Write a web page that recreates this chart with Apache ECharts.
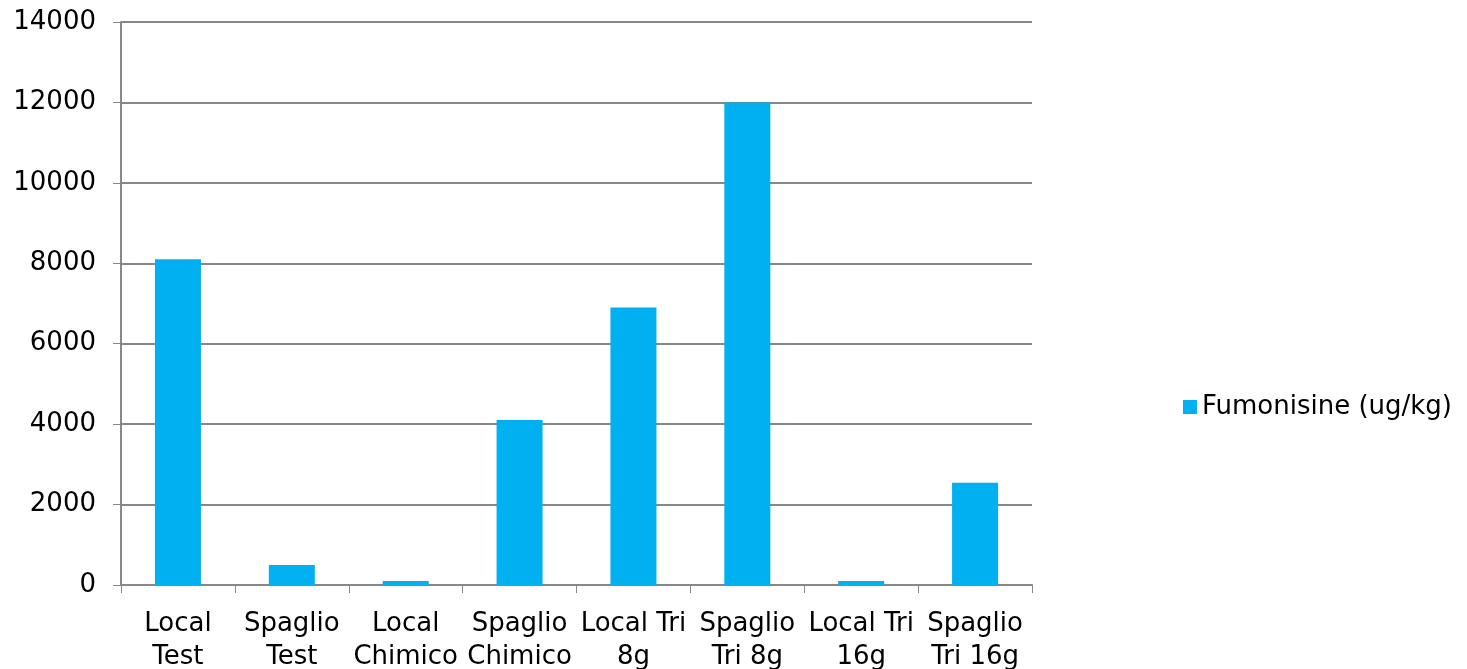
<!DOCTYPE html>
<html>
<head>
<meta charset="utf-8">
<script src="https://cdn.jsdelivr.net/npm/echarts@6/dist/echarts.min.js"></script>
<style>
    html, body { margin: 0; padding: 0; background: #fff; }
    #main { width: 1467px; height: 669px; }
</style>
</head>
<body>
<div id="main"></div>
<script>
var categories = ['Local\nTest', 'Spaglio\nTest', 'Local\nChimico', 'Spaglio\nChimico',
    'Local Tri\n8g', 'Spaglio\nTri 8g', 'Local Tri\n16g', 'Spaglio\nTri 16g'];
var fumonisine = [8100, 500, 100, 4100, 6900, 12000, 100, 2540];
var seriesName = 'Fumonisine (ug/kg)';

var myChart = echarts.init(document.getElementById('main'));
var option = {
    backgroundColor: '#fff',
    textStyle: {
        fontFamily: 'DejaVu Sans'
    },
    grid: {
        left: 121,
        right: 435,
        top: 22,
        bottom: 84,
        outerBoundsMode: 'none'
    },
    legend: {
        data: [seriesName],
        right: 10,
        top: 389,
        icon: 'rect',
        itemWidth: 14,
        itemHeight: 14,
        itemGap: 9,
        textStyle: {
            color: '#000',
            fontSize: 26,
            fontFamily: 'DejaVu Sans'
        }
    },
    xAxis: {
        type: 'category',
        data: categories,
        axisTick: {
            show: true,
            length: 8,
            lineStyle: { color: '#888' }
        },
        axisLine: {
            lineStyle: { color: '#888', width: 2 }
        },
        axisLabel: {
            interval: 0,
            color: '#000',
            fontSize: 26,
            lineHeight: 33,
            margin: 23,
            align: 'center'
        }
    },
    yAxis: {
        type: 'value',
        min: 0,
        max: 14000,
        interval: 2000,
        axisLine: {
            show: true,
            lineStyle: { color: '#888', width: 2 }
        },
        axisTick: {
            show: true,
            length: 8,
            lineStyle: { color: '#888' }
        },
        splitLine: {
            lineStyle: { color: '#888', width: 2 }
        },
        axisLabel: {
            color: '#000',
            fontSize: 26,
            margin: 25,
            formatter: function (v) { return String(v); }
        }
    },
    series: [{
        name: seriesName,
        type: 'bar',
        barWidth: 46,
        data: fumonisine,
        itemStyle: {
            color: '#00B0F0'
        }
    }]
};
myChart.setOption(option);
</script>
</body>
</html>
